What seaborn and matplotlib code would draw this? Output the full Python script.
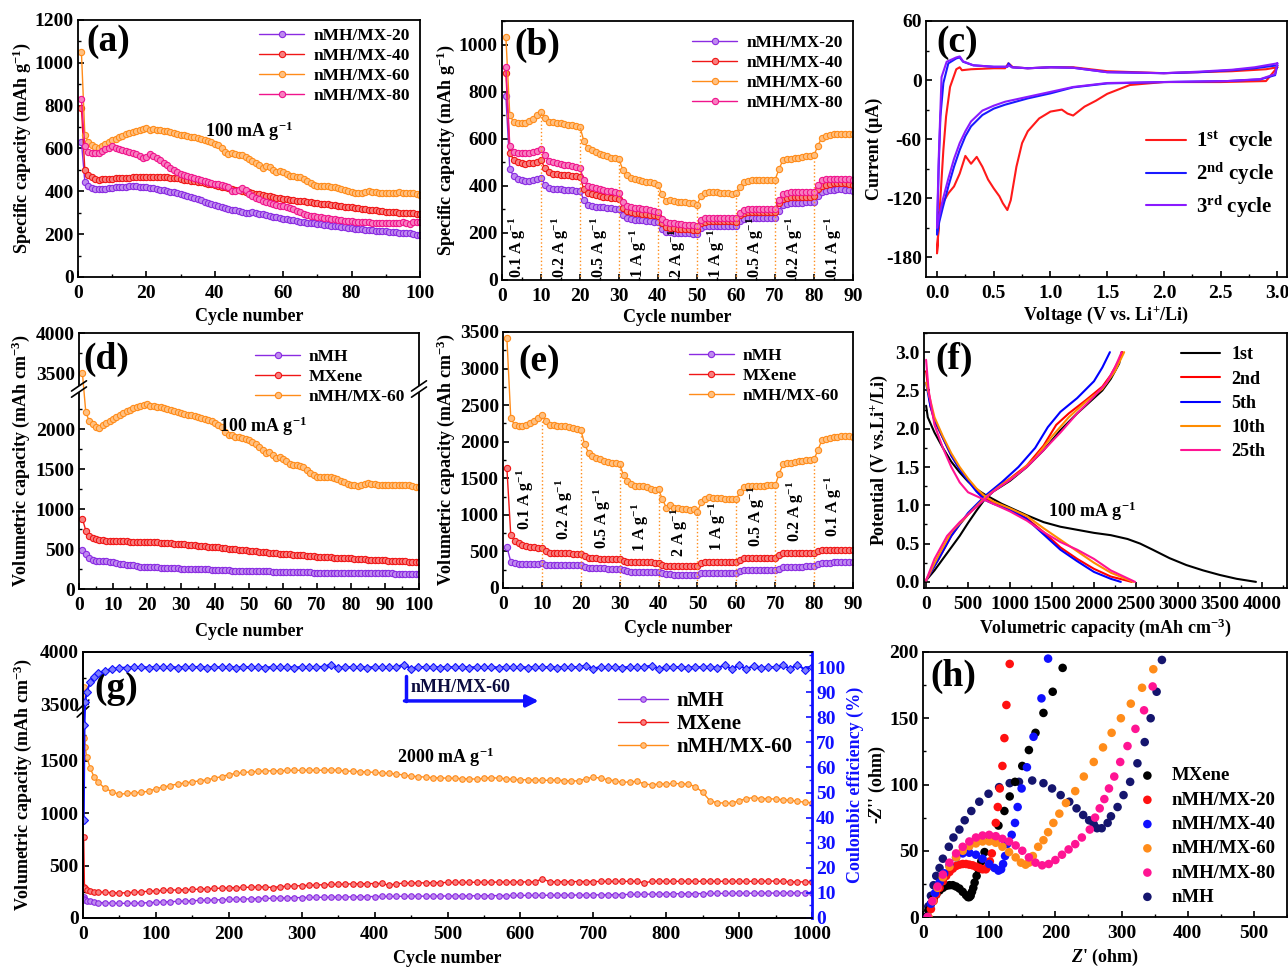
import numpy as np
import matplotlib
matplotlib.use("Agg")
import matplotlib.pyplot as plt
import seaborn as sns
from matplotlib.ticker import MultipleLocator
from matplotlib.colors import to_rgb

# ---------------------------------------------------------------- data
cyc100 = list(range(1, 101))
cyc90 = list(range(1, 91))

# (a) specific capacity, 100 mA g-1
a_mx20 = [632, 445, 425, 415, 410, 410, 411, 413, 415, 417, 419, 420, 421, 422, 423, 423, 423, 422, 421, 419,
          417, 414, 411, 408, 405, 402, 399, 396, 393, 389, 384, 379, 374, 369, 364, 358, 352, 346, 340, 335,
          331, 327, 323, 319, 315, 311, 307, 303, 300, 298, 302, 299, 295, 292, 289, 285, 282, 279, 276, 273,
          270, 267, 264, 261, 258, 256, 254, 252, 250, 248, 246, 244, 242, 240, 238, 236, 234, 232, 230, 228,
          226, 224, 222, 220, 219, 218, 216, 215, 214, 213, 211, 209, 208, 206, 205, 207, 205, 200, 196, 194]
a_mx40 = [790, 500, 475, 465, 457, 455, 456, 457, 458, 459, 460, 461, 462, 463, 464, 465, 466, 467, 468, 469,
          469, 469, 468, 468, 467, 466, 464, 462, 460, 457, 455, 452, 450, 447, 445, 442, 439, 436, 433, 430,
          426, 422, 418, 415, 412, 408, 405, 402, 398, 395, 392, 389, 386, 383, 380, 377, 374, 371, 368, 365,
          363, 361, 359, 357, 355, 353, 351, 349, 347, 345, 343, 341, 339, 337, 335, 333, 331, 329, 327, 325,
          322, 320, 318, 317, 315, 313, 311, 309, 307, 305, 304, 303, 302, 301, 300, 299, 298, 297, 296, 295]
a_mx60 = [1050, 665, 630, 615, 608, 603, 612, 622, 630, 638, 645, 652, 660, 667, 673, 679, 684, 688, 692, 695,
          688, 690, 688, 686, 683, 680, 676, 672, 668, 665, 662, 658, 655, 652, 648, 645, 640, 635, 630, 622,
          615, 600, 585, 575, 578, 572, 570, 568, 562, 552, 542, 532, 522, 510, 518, 512, 500, 492, 496, 488,
          480, 472, 470, 468, 465, 458, 450, 440, 430, 425, 424, 424, 425, 422, 418, 414, 410, 405, 400, 396,
          392, 390, 390, 398, 400, 398, 398, 392, 394, 394, 392, 394, 393, 395, 392, 390, 390, 390, 386, 384]
a_mx80 = [830, 610, 585, 580, 578, 580, 588, 597, 604, 610, 602, 597, 592, 587, 583, 578, 573, 567, 555, 560,
          572, 565, 555, 545, 533, 521, 510, 500, 490, 482, 476, 470, 465, 460, 456, 451, 447, 442, 438, 435,
          432, 428, 424, 418, 402, 403, 408, 415, 405, 388, 378, 368, 362, 356, 350, 345, 340, 336, 332, 330,
          326, 321, 316, 310, 303, 296, 290, 286, 283, 280, 278, 276, 274, 272, 270, 267, 264, 262, 260, 260,
          259, 258, 257, 256, 255, 254, 253, 252, 251, 250, 251, 252, 253, 254, 255, 252, 248, 255, 256, 255]

# (b) rate capability, specific capacity
b_mx20 = [780, 470, 440, 430, 425, 420, 422, 425, 428, 432, 405, 390, 387, 385, 385, 384, 383, 382, 380, 378,
          340, 320, 315, 312, 310, 308, 306, 304, 302, 300, 275, 262, 258, 256, 255, 253, 252, 250, 248, 245,
          215, 205, 202, 200, 200, 199, 198, 198, 197, 197, 220, 228, 230, 230, 230, 230, 229, 229, 228, 228,
          250, 260, 262, 262, 262, 262, 262, 262, 262, 262, 295, 318, 322, 325, 327, 328, 329, 330, 331, 332,
          358, 375, 380, 382, 384, 385, 385, 384, 382, 380]
b_mx40 = [880, 540, 510, 500, 495, 493, 495, 498, 503, 508, 475, 460, 452, 450, 448, 447, 445, 443, 440, 437,
          385, 370, 365, 360, 357, 354, 352, 350, 348, 345, 305, 292, 288, 285, 283, 281, 279, 277, 275, 272,
          240, 225, 222, 220, 218, 217, 216, 215, 214, 213, 240, 248, 250, 250, 250, 250, 250, 249, 249, 248,
          275, 285, 288, 288, 288, 288, 288, 288, 288, 288, 325, 345, 350, 352, 353, 353, 353, 353, 354, 355,
          385, 400, 405, 408, 410, 410, 410, 410, 408, 405]
b_mx60 = [1030, 700, 670, 665, 665, 668, 675, 685, 700, 712, 688, 670, 670, 668, 665, 663, 660, 657, 655, 650,
          590, 560, 550, 543, 537, 530, 525, 520, 518, 512, 468, 445, 435, 428, 423, 420, 418, 415, 410, 405,
          365, 335, 340, 335, 333, 332, 330, 328, 325, 320, 355, 368, 372, 374, 372, 370, 370, 368, 367, 368,
          395, 415, 422, 424, 425, 424, 424, 425, 425, 425, 470, 508, 512, 515, 518, 520, 522, 525, 528, 530,
          570, 605, 612, 615, 618, 620, 622, 622, 620, 618]
b_mx80 = [905, 570, 545, 540, 538, 538, 540, 543, 547, 555, 530, 505, 500, 495, 492, 490, 488, 485, 480, 475,
          425, 400, 393, 390, 386, 383, 380, 377, 373, 368, 330, 315, 310, 307, 305, 303, 300, 298, 295, 290,
          260, 245, 242, 240, 238, 237, 235, 234, 232, 230, 255, 262, 265, 265, 265, 265, 264, 264, 263, 262,
          285, 298, 300, 302, 302, 302, 302, 302, 302, 302, 340, 365, 370, 372, 372, 372, 372, 372, 373, 375,
          405, 425, 428, 430, 430, 430, 430, 430, 428, 425]
rate_labels = ["0.1 A g$^{-1}$", "0.2 A g$^{-1}$", "0.5 A g$^{-1}$", "1 A g$^{-1}$", "2 A g$^{-1}$",
               "1 A g$^{-1}$", "0.5 A g$^{-1}$", "0.2 A g$^{-1}$", "0.1 A g$^{-1}$"]
step_cycles = [10, 20, 30, 40, 50, 60, 70, 80]

# (c) CV curves
cv1_v = [3.0, 2.9, 2.5, 2.0, 1.7, 1.5, 1.4, 1.3, 1.2, 1.15, 1.1, 1.0, 0.9, 0.8, 0.75, 0.7, 0.65, 0.62, 0.58, 0.55,
         0.5, 0.45, 0.4, 0.35, 0.3, 0.25, 0.2, 0.15, 0.1, 0.05, 0.02, 0.0, 0.03, 0.056, 0.08, 0.115, 0.17, 0.2,
         0.22, 0.3, 0.5, 0.6, 0.63, 0.67, 0.8, 1.0, 1.2, 1.5, 2.0, 2.3, 2.6, 2.9, 3.0]
cv1_i = [13, -1, -2, -2, -5, -14, -21, -27, -36, -34, -30, -32, -39, -52, -64, -88, -122, -132, -125, -118,
         -110, -101, -88, -78, -85, -77, -95, -108, -115, -125, -135, -176, -120, -71, -37, -7, 11, 13,
         10, 11, 12, 12, 17, 13, 12, 13, 13, 9, 7, 8, 9, 11, 13]
cv2_v = [3.0, 2.98, 2.85, 2.56, 2.0, 1.5, 1.2, 1.0, 0.8, 0.6, 0.5, 0.4, 0.3, 0.25, 0.2, 0.15, 0.1, 0.05, 0.02, 0.0,
         0.015, 0.03, 0.056, 0.1, 0.17, 0.2, 0.23, 0.32, 0.5, 0.62, 0.63, 0.66, 0.8, 1.0, 1.2, 1.5, 2.0, 2.3,
         2.6, 2.8, 3.0]
cv2_i = [15, 5, 0.7, -1, -2, -3.4, -7.4, -13.5, -18.6, -25, -29, -35.5, -47, -57, -71, -88, -108, -130, -144, -157,
         -88, -37, -3, 17, 22, 23, 18.6, 15, 13.5, 13.5, 17, 13, 12, 13, 12.5, 8, 7, 8, 10, 12, 15]
cv3_v = [3.0, 2.98, 2.85, 2.56, 2.0, 1.5, 1.2, 1.0, 0.8, 0.6, 0.5, 0.4, 0.3, 0.25, 0.2, 0.15, 0.1, 0.05, 0.02, 0.0,
         0.015, 0.04, 0.085, 0.17, 0.2, 0.23, 0.32, 0.5, 0.62, 0.63, 0.66, 0.8, 1.0, 1.2, 1.5, 2.0, 2.3, 2.6,
         2.8, 3.0]
cv3_i = [17, 6, 1, -1, -2, -3, -7, -12, -17, -22, -26, -31, -42, -52, -64, -80, -100, -122, -138, -150,
         -80, 3, 18.6, 23, 24, 19, 15, 13.5, 13.5, 15, 13, 12, 13, 12.5, 8, 7, 8.5, 10.5, 13, 17]

# (d) volumetric capacity, 100 mA g-1
d_nmh = [490, 440, 390, 362, 355, 350, 347, 345, 340, 335, 325, 312, 308, 305, 303, 300, 290, 280, 277, 275,
         273, 271, 269, 267, 265, 263, 261, 259, 257, 255, 253, 251, 250, 249, 248, 247, 246, 244, 242, 240,
         238, 236, 234, 232, 230, 229, 228, 227, 226, 225, 224, 223, 222, 221, 220, 219, 218, 217, 216, 215,
         214, 213, 212, 211, 210, 209, 208, 207, 206, 205, 204, 203, 202, 202, 201, 201, 200, 200, 200, 200,
         199, 199, 198, 198, 197, 197, 196, 196, 195, 195, 194, 194, 193, 193, 192, 192, 191, 191, 190, 190]
d_mx = [880, 730, 660, 635, 620, 612, 607, 603, 600, 598, 597, 596, 595, 594, 593, 592, 591, 590, 589, 588,
        586, 584, 582, 579, 576, 573, 570, 567, 564, 561, 558, 555, 551, 547, 543, 539, 535, 531, 527, 523,
        519, 515, 510, 505, 500, 495, 491, 487, 483, 479, 475, 471, 467, 463, 459, 455, 451, 447, 443, 439,
        435, 432, 429, 426, 423, 420, 416, 412, 408, 404, 400, 398, 396, 394, 392, 390, 388, 386, 384, 382,
        380, 377, 374, 371, 368, 365, 363, 361, 359, 357, 355, 353, 351, 349, 347, 345, 343, 341, 338, 335]
d_mx60 = [3500, 2210, 2100, 2060, 2030, 2010, 2050, 2080, 2100, 2130, 2150, 2170, 2200, 2220, 2240, 2260, 2275,
          2285, 2295, 2310, 2285, 2290, 2280, 2270, 2260, 2250, 2240, 2230, 2215, 2200, 2190, 2180, 2170, 2160,
          2150, 2140, 2125, 2110, 2095, 2075, 2055, 2020, 1960, 1920, 1925, 1900, 1895, 1890, 1880, 1865, 1840,
          1810, 1780, 1740, 1705, 1710, 1680, 1640, 1645, 1630, 1595, 1565, 1555, 1550, 1540, 1520, 1490, 1450,
          1420, 1405, 1400, 1400, 1400, 1395, 1385, 1370, 1355, 1335, 1315, 1305, 1300, 1290, 1295, 1315, 1320,
          1315, 1315, 1300, 1305, 1305, 1295, 1300, 1305, 1305, 1300, 1300, 1295, 1290, 1280, 1275]

# (e) rate capability, volumetric capacity
e_nmh = [560, 360, 340, 333, 330, 330, 331, 332, 334, 335, 320, 312, 311, 310, 310, 310, 309, 309, 308, 308,
         285, 272, 270, 269, 268, 267, 266, 265, 265, 264, 240, 226, 224, 223, 222, 222, 221, 221, 220, 220,
         200, 186, 185, 184, 183, 182, 182, 181, 181, 180, 200, 210, 210, 209, 209, 208, 208, 207, 207, 206,
         230, 240, 241, 241, 241, 242, 242, 242, 243, 243, 265, 285, 288, 290, 291, 292, 293, 294, 295, 296,
         325, 345, 347, 348, 349, 350, 350, 350, 350, 350]
e_mx = [1640, 720, 640, 610, 590, 575, 565, 555, 550, 545, 500, 478, 476, 475, 474, 473, 472, 471, 470, 470,
        440, 408, 405, 404, 403, 402, 401, 400, 400, 400, 370, 352, 351, 350, 350, 350, 349, 349, 348, 348,
        320, 306, 305, 304, 303, 302, 302, 301, 301, 300, 335, 354, 356, 356, 356, 355, 355, 355, 354, 354,
        385, 404, 406, 407, 408, 408, 409, 409, 410, 410, 450, 474, 476, 477, 478, 478, 479, 479, 480, 480,
        500, 518, 520, 521, 522, 523, 524, 524, 525, 525]
e_mx60 = [3420, 2320, 2230, 2210, 2210, 2230, 2250, 2280, 2330, 2370, 2290, 2230, 2225, 2220, 2215, 2210, 2200,
          2185, 2170, 2165, 1965, 1850, 1810, 1780, 1760, 1740, 1725, 1710, 1710, 1690, 1540, 1460, 1420, 1400,
          1400, 1390, 1380, 1360, 1340, 1350, 1210, 1100, 1130, 1100, 1100, 1080, 1075, 1070, 1080, 1045, 1170,
          1220, 1240, 1230, 1235, 1225, 1220, 1220, 1210, 1220, 1310, 1380, 1400, 1400, 1400, 1400, 1400, 1405,
          1410, 1405, 1560, 1690, 1710, 1715, 1720, 1730, 1740, 1745, 1750, 1760, 1890, 2020, 2040, 2050, 2060,
          2070, 2075, 2075, 2075, 2060]

# (f) charge/discharge profiles (capacity, potential)
f1_dq = [0, 20, 100, 200, 300, 400, 500, 600, 700, 800, 900, 1000, 1200, 1400, 1600, 1800, 2000, 2200, 2400,
         2550, 2700, 2900, 3100, 3300, 3500, 3700, 3930]
f1_dv = [2.3, 2.15, 1.95, 1.75, 1.57, 1.43, 1.31, 1.21, 1.14, 1.08, 1.02, 0.97, 0.87, 0.78, 0.72, 0.68, 0.64,
         0.61, 0.56, 0.5, 0.42, 0.31, 0.22, 0.15, 0.09, 0.04, 0.0]
f1_cq = [0, 100, 200, 300, 400, 500, 600, 700, 800, 1000, 1200, 1400, 1600, 1800, 2000, 2100, 2200, 2300, 2330]
f1_cv = [0.02, 0.15, 0.3, 0.45, 0.6, 0.77, 0.93, 1.08, 1.18, 1.32, 1.5, 1.72, 1.98, 2.2, 2.4, 2.5, 2.65, 2.85, 3.0]
f2_dq = [0, 50, 100, 200, 300, 400, 500, 600, 700, 800, 1000, 1200, 1400, 1600, 1800, 2000, 2200, 2450]
f2_dv = [2.75, 2.3, 2.1, 1.88, 1.65, 1.48, 1.33, 1.2, 1.1, 1.03, 0.95, 0.83, 0.65, 0.45, 0.3, 0.17, 0.07, 0.0]
f2_cq = [0, 150, 300, 400, 500, 600, 700, 800, 1000, 1200, 1400, 1550, 1700, 1900, 2100, 2200, 2300, 2340]
f2_cv = [0.02, 0.3, 0.6, 0.75, 0.88, 1.0, 1.1, 1.2, 1.35, 1.52, 1.78, 2.05, 2.2, 2.37, 2.55, 2.7, 2.9, 3.0]
f5_dq = [0, 50, 100, 200, 300, 400, 500, 600, 700, 800, 1000, 1200, 1400, 1600, 1800, 2000, 2200, 2320]
f5_dv = [2.6, 2.3, 2.12, 1.88, 1.65, 1.47, 1.32, 1.18, 1.07, 1.02, 0.94, 0.82, 0.62, 0.42, 0.27, 0.13, 0.04, 0.0]
f5_cq = [0, 150, 300, 500, 700, 900, 1100, 1300, 1450, 1600, 1800, 2000, 2100, 2190]
f5_cv = [0.02, 0.3, 0.6, 0.9, 1.12, 1.3, 1.5, 1.75, 2.02, 2.22, 2.4, 2.62, 2.8, 3.0]
f10_dq = [0, 100, 200, 300, 400, 500, 600, 700, 800, 1000, 1200, 1400, 1600, 1800, 2000, 2200, 2470]
f10_dv = [2.6, 2.15, 1.9, 1.68, 1.5, 1.35, 1.22, 1.12, 1.05, 0.96, 0.86, 0.7, 0.55, 0.4, 0.25, 0.12, 0.0]
f10_cq = [0, 150, 300, 500, 700, 900, 1100, 1300, 1500, 1700, 1900, 2100, 2250, 2360]
f10_cv = [0.02, 0.35, 0.65, 0.88, 1.1, 1.27, 1.42, 1.62, 1.9, 2.15, 2.35, 2.52, 2.75, 3.0]
f25_dq = [0, 30, 100, 200, 300, 400, 500, 600, 700, 800, 1000, 1200, 1400, 1600, 1800, 2000, 2200, 2490]
f25_dv = [2.9, 2.5, 2.05, 1.75, 1.5, 1.3, 1.17, 1.12, 1.07, 1.02, 0.92, 0.8, 0.65, 0.52, 0.42, 0.3, 0.15, 0.0]
f25_cq = [0, 100, 250, 400, 600, 800, 1000, 1200, 1400, 1600, 1800, 2000, 2150, 2250, 2330]
f25_cv = [0.02, 0.3, 0.6, 0.78, 0.98, 1.18, 1.33, 1.5, 1.72, 1.95, 2.2, 2.42, 2.6, 2.8, 3.0]

# (g) long cycling at 2000 mA g-1
g_cyc = [1, 2, 3, 5, 10, 15, 20] + list(range(30, 1001, 10))
g_mx60 = [3670, 1720, 1635, 1540, 1430, 1350, 1300,
          1240, 1205, 1180, 1190, 1195, 1200, 1210, 1235, 1250, 1265,
          1280, 1290, 1300, 1310, 1320, 1335, 1350, 1370, 1380, 1390,
          1395, 1400, 1405, 1405, 1405, 1410, 1410, 1410, 1412, 1410,
          1412, 1415, 1410, 1405, 1400, 1398, 1395, 1390, 1385, 1380,
          1375, 1365, 1355, 1350, 1345, 1340, 1338, 1335, 1335, 1330,
          1330, 1325, 1335, 1340, 1335, 1330, 1325, 1320, 1320, 1318,
          1315, 1315, 1318, 1312, 1308, 1310, 1330, 1345, 1335, 1320,
          1310, 1295, 1300, 1305, 1280, 1272, 1280, 1280, 1285, 1282,
          1278, 1255, 1200, 1120, 1100, 1098, 1095, 1120, 1140, 1150,
          1140, 1140, 1135, 1130, 1125, 1115, 1105, 1100]
g_mx = [770, 300, 285, 270, 258, 252, 250,
        245, 242, 238, 242, 245, 250, 255, 260, 263, 266,
        268, 270, 273, 276, 279, 282, 285, 288, 290, 292,
        294, 296, 298, 290, 300, 303, 306, 309, 312, 315,
        318, 320, 322, 324, 326, 327, 328, 329, 330, 312,
        328, 332, 334, 335, 336, 337, 338, 339, 340, 340,
        341, 341, 342, 342, 343, 343, 344, 344, 345, 345,
        375, 346, 346, 347, 347, 348, 348, 348, 349, 349,
        349, 350, 350, 350, 335, 350, 350, 350, 350, 350,
        350, 350, 350, 350, 350, 350, 349, 349, 349, 350,
        350, 352, 352, 350, 345, 345, 345, 345]
g_nmh = [200, 180, 172, 165, 158, 152, 148,
         145, 142, 140, 140, 141, 143, 146, 150, 153, 156,
         159, 162, 165, 168, 170, 172, 175, 177, 179, 181,
         183, 185, 187, 188, 190, 192, 194, 195, 196, 197,
         198, 199, 200, 201, 202, 203, 204, 205, 206, 206,
         207, 207, 208, 208, 209, 209, 210, 210, 211, 211,
         212, 212, 213, 213, 214, 214, 215, 215, 216, 216,
         217, 217, 218, 218, 219, 219, 220, 220, 221, 222,
         223, 224, 225, 226, 227, 228, 229, 230, 231, 232,
         232, 233, 233, 234, 234, 235, 235, 236, 236, 237,
         237, 238, 238, 239, 239, 240, 240, 240]
g_ce = [39, 77, 86, 90, 94, 96, 97.5,
        98.5, 99.2, 99.6, 99.8, 99.9, 100, 99.8, 100, 99.9, 100,
        99.8, 100, 99.9, 100.1, 99.8, 100, 99.9, 100, 99.8, 100,
        99.9, 100, 99.8, 100, 99.9, 100, 99.8, 100, 99.9, 100,
        100.1, 101, 99.6, 100, 99.9, 100, 99.8, 100, 99.9, 100,
        100, 101, 99.4, 100, 99.9, 100, 99.8, 100, 99.9, 100,
        99.8, 100, 99.9, 100, 99.8, 100, 99.9, 100, 99.8, 100,
        99.9, 100, 99.8, 100, 99.9, 100, 100.5, 99.4, 100, 99.9,
        100, 99.8, 100, 99.9, 100, 100.6, 99.3, 100, 99.9, 100,
        99.8, 100, 99.9, 100.2, 99.6, 100.7, 99.2, 100.8, 99.1, 100.6,
        99.5, 100, 99.9, 100.8, 99.3, 101, 99, 100]

# (h) Nyquist plots
h_mx_x = [5, 8, 12, 16, 20, 25, 30, 35, 40, 45, 50, 55, 60, 65, 68, 70, 72, 74, 76, 78, 81, 84, 88, 93, 101,
          114, 123, 131, 139, 150, 160, 170, 182, 196, 211]
h_mx_y = [0, 5, 10, 14, 17, 20, 22, 23.5, 24, 24, 23, 21.5, 19, 16.5, 15, 15, 16, 19, 22, 26, 31, 36, 42, 49, 58,
          69, 80, 91, 102, 114, 126, 139, 154, 170, 188]
h_20_x = [8, 12, 16, 20, 25, 30, 35, 40, 45, 50, 55, 60, 65, 70, 75, 80, 85, 90, 95, 98, 101, 104, 107, 110, 113,
          116, 120, 123, 126, 131]
h_20_y = [0, 6, 12, 17, 22, 27, 31, 34, 36.5, 38.5, 39.5, 40, 40, 39.5, 39, 38, 37, 36, 36, 38, 42, 48, 58, 71, 83,
          97, 114, 135, 160, 191]
h_40_x = [7, 12, 18, 25, 32, 40, 50, 60, 70, 80, 90, 100, 108, 114, 118, 121, 124, 127, 134, 139, 143, 149, 157,
          167, 179, 189]
h_40_y = [0, 10, 18, 26, 33, 39, 45, 48, 48.5, 47, 44, 40, 37, 35, 36, 40, 46, 55, 62, 71, 83, 97, 113, 136, 165, 195]
h_60_x = [8, 15, 22, 30, 40, 50, 60, 70, 80, 90, 100, 110, 120, 130, 140, 148, 155, 160, 166, 174, 182, 189, 197,
          206, 216, 230, 243, 258, 272, 285, 299, 314, 331, 348]
h_60_y = [0, 12, 22, 30, 38, 45, 50, 53.5, 55.5, 57, 57, 56, 53, 49, 45, 41, 39.5, 41, 46, 53, 58, 64, 71, 78, 86,
          95, 106, 117, 128, 139, 150, 161, 173, 187]
h_80_x = [7, 14, 22, 30, 40, 50, 60, 70, 80, 90, 100, 110, 120, 130, 140, 150, 160, 170, 180, 190, 200, 210, 220,
          230, 240, 252, 260, 267, 274, 281, 289, 298, 309, 321, 334, 347]
h_80_y = [0, 12, 23, 32, 41, 48, 53, 57, 60, 61.5, 62, 61, 59, 57, 54, 50, 45, 41, 39, 40, 43, 47, 51, 55, 60, 66,
          75, 82, 89, 97, 106, 117, 129, 142, 156, 174]
h_nmh_x = [5, 8, 12, 16, 20, 25, 30, 39, 46, 55, 63, 73, 85, 99, 115, 131, 145, 165, 182, 195, 208, 221, 232,
           242, 251, 258, 263, 270, 279, 284, 294, 303, 313, 324, 335, 344, 353, 361]
h_nmh_y = [0, 8, 16, 24, 31, 37, 44, 53, 60, 66, 73, 80, 87, 93, 98, 101, 102, 103, 101, 97, 92, 87, 82, 77, 73,
           70, 67, 67, 71, 76, 83, 92, 102, 116, 132, 150, 170, 194]

# ---------------------------------------------------------------- style
sns.set_theme(style="ticks")
plt.rcParams.update({
    "font.family": ["Liberation Serif", "DejaVu Serif"],
    "font.weight": "bold",
    "axes.labelweight": "bold",
    "mathtext.fontset": "custom",
    "mathtext.rm": "Liberation Serif:bold",
    "mathtext.bf": "Liberation Serif:bold",
    "mathtext.it": "Liberation Serif:italic:bold",
    "mathtext.default": "bf",
    "axes.unicode_minus": False,
    "axes.linewidth": 1.3,
    "axes.edgecolor": "black",
    "axes.labelcolor": "black",
    "text.color": "black",
    "xtick.color": "black", "ytick.color": "black",
    "xtick.direction": "in", "ytick.direction": "in",
    "xtick.major.size": 4, "ytick.major.size": 4,
    "xtick.minor.size": 2.5, "ytick.minor.size": 2.5,
    "xtick.major.width": 1.2, "ytick.major.width": 1.2,
    "xtick.minor.width": 1.0, "ytick.minor.width": 1.0,
    "xtick.major.pad": 6, "ytick.major.pad": 3,
    "xtick.labelsize": 14, "ytick.labelsize": 14,
    "axes.labelsize": 13,
    "legend.frameon": False,
})

PURPLE = "#8a2be2"
RED = "#f01616"
ORANGE = "#ff8c1a"
PINK = "#f0148c"
BLUE = "#1010ff"
NAVY = "#15156e"


def tint(c, f=0.45):
    r, g, b = to_rgb(c)
    return (r + (1 - r) * f, g + (1 - g) * f, b + (1 - b) * f)


def lp(ax, x, y, color, label=None, marker="o", ms=4.5, lw=1.0, **kw):
    extra = {}
    if marker is not None:
        extra = dict(marker=marker, markersize=ms, markerfacecolor=tint(color),
                     markeredgecolor=color, markeredgewidth=0.8)
    sns.lineplot(x=np.asarray(x, float), y=np.asarray(y, float), ax=ax, color=color,
                 linewidth=lw, sort=False, estimator=None, legend=False, label=label,
                 **extra, **kw)


def locs(ax, xmaj, xmin, ymaj=None, ymin=None):
    ax.xaxis.set_major_locator(MultipleLocator(xmaj))
    ax.xaxis.set_minor_locator(MultipleLocator(xmin))
    if ymaj is not None:
        ax.yaxis.set_major_locator(MultipleLocator(ymaj))
        ax.yaxis.set_minor_locator(MultipleLocator(ymin))


def panel(ax, s, x, y):
    ax.text(x, y, s, transform=ax.transAxes, fontsize=27, fontweight="bold", va="top", ha="left")


def break_scale(lo, hi):
    gap = hi - lo

    def fwd(y):
        y = np.asarray(y, float)
        return np.where(y <= lo, y, np.where(y >= hi, y - gap, lo))

    def inv(z):
        z = np.asarray(z, float)
        return np.where(z <= lo, z, z + gap)
    return fwd, inv


def break_mark(ax, yb, xs=(0, 1), dx=0.022, dy=0.018, s=0.011):
    for x0 in xs:
        ax.plot([x0, x0], [yb - s, yb + s], transform=ax.transAxes, color="white", lw=3,
                clip_on=False, zorder=10, solid_capstyle="butt")
        for o in (-s, s):
            ax.plot([x0 - dx, x0 + dx], [yb + o - dy, yb + o + dy], transform=ax.transAxes,
                    color="black", lw=1.2, clip_on=False, zorder=11)


W, H = 1288, 967


def box(l, t, r, b):
    return [l / W, 1 - b / H, (r - l) / W, (b - t) / H]


fig = plt.figure(figsize=(W / 100, H / 100), dpi=100)

# ---------------------------------------------------------------- (a)
ax = fig.add_axes(box(78, 20, 420, 277))
for vals, c, lab in [(a_mx20, PURPLE, "nMH/MX-20"), (a_mx40, RED, "nMH/MX-40"),
                     (a_mx60, ORANGE, "nMH/MX-60"), (a_mx80, PINK, "nMH/MX-80")]:
    lp(ax, cyc100, vals, c, lab)
ax.set_xlim(0, 100)
ax.set_ylim(0, 1200)
locs(ax, 20, 10, 200, 100)
ax.set_xlabel("Cycle number", labelpad=4)
ax.set_ylabel("Specific capacity (mAh g$^{-1}$)", labelpad=1)
ax.text(50, 680, "100 mA g$^{-1}$", ha="center", va="center", fontsize=13)
ax.legend(loc="upper right", bbox_to_anchor=(1.0, 1.01), fontsize=12.5, handlelength=2.6,
          labelspacing=0.22, handletextpad=0.5, borderaxespad=0.2)
panel(ax, "(a)", 0.025, 0.985)

# ---------------------------------------------------------------- (b)
ax = fig.add_axes(box(502, 21, 853, 280))
for vals, c, lab in [(b_mx20, PURPLE, "nMH/MX-20"), (b_mx40, RED, "nMH/MX-40"),
                     (b_mx60, ORANGE, "nMH/MX-60"), (b_mx80, PINK, "nMH/MX-80")]:
    lp(ax, cyc90, vals, c, lab)
ax.vlines(step_cycles, 0, [b_mx60[c - 1] for c in step_cycles], colors=ORANGE, linestyles=":", lw=1)
b_lab_x = [4, 15, 25, 35, 45, 55, 65, 75, 85]
for x, t in zip(b_lab_x, rate_labels):
    ax.text(x, 8, t, rotation=90, ha="center", va="bottom", fontsize=11.5)
ax.set_xlim(0, 90)
ax.set_ylim(0, 1100)
locs(ax, 10, 5, 200, 100)
ax.set_xlabel("Cycle number", labelpad=3)
ax.set_ylabel("Specific capacity (mAh g$^{-1}$)", labelpad=1)
ax.legend(loc="upper right", bbox_to_anchor=(1.0, 0.985), fontsize=12.5, handlelength=2.6,
          labelspacing=0.22, handletextpad=0.5, borderaxespad=0.2)
panel(ax, "(b)", 0.035, 0.975)

# ---------------------------------------------------------------- (c)
ax = fig.add_axes(box(926, 21, 1287, 277))
lp(ax, cv1_v, cv1_i, "#ff1a1a", "1$^{st}$  cycle", marker=None, lw=1.5)
lp(ax, cv2_v, cv2_i, "#1a1aff", "2$^{nd}$ cycle", marker=None, lw=1.5)
lp(ax, cv3_v, cv3_i, "#8a1aff", "3$^{rd}$ cycle", marker=None, lw=1.5)
ax.set_xlim(-0.097, 3.085)
ax.set_ylim(-200, 60)
locs(ax, 0.5, 0.25, 60, 30)
ax.set_xlabel("Voltage (V vs. Li$^{+}$/Li)", labelpad=2)
ax.set_ylabel("Current (μA)", labelpad=2)
ax.legend(loc="center right", bbox_to_anchor=(1.0, 0.40), fontsize=15, handlelength=1.9,
          labelspacing=0.3, handletextpad=0.5, borderaxespad=0.2)
panel(ax, "(c)", 0.03, 0.985)

# ---------------------------------------------------------------- (d)
ax = fig.add_axes(box(79, 333, 419, 589))
fwd, inv = break_scale(2500, 3300)
ax.set_yscale("function", functions=(fwd, inv))
for vals, c, lab in [(d_nmh, PURPLE, "nMH"), (d_mx, RED, "MXene"), (d_mx60, ORANGE, "nMH/MX-60")]:
    lp(ax, cyc100, vals, c, lab)
ax.set_xlim(0, 100)
ax.set_ylim(0, 4000)
ax.set_yticks([0, 500, 1000, 1500, 2000, 3500, 4000])
ax.set_yticks([250, 750, 1250, 1750, 2250, 3750], minor=True)
ax.xaxis.set_major_locator(MultipleLocator(10))
ax.xaxis.set_minor_locator(MultipleLocator(5))
ax.set_xlabel("Cycle number", labelpad=6)
ax.set_ylabel("Volumetric capacity (mAh cm$^{-3}$)", labelpad=3)
ax.text(54, 2040, "100 mA g$^{-1}$", ha="center", va="center", fontsize=13)
ax.legend(loc="upper right", bbox_to_anchor=(0.99, 0.98), fontsize=12.5, handlelength=2.6,
          labelspacing=0.22, handletextpad=0.5, borderaxespad=0.2)
break_mark(ax, 2500 / 3200, dx=0.022, dy=0.02, s=0.012)
panel(ax, "(d)", 0.012, 0.965)

# ---------------------------------------------------------------- (e)
ax = fig.add_axes(box(503, 332, 853, 588))
for vals, c, lab in [(e_nmh, PURPLE, "nMH"), (e_mx, RED, "MXene"), (e_mx60, ORANGE, "nMH/MX-60")]:
    lp(ax, cyc90, vals, c, lab)
ax.vlines(step_cycles, 0, [e_mx60[c - 1] for c in step_cycles], colors=ORANGE, linestyles=":", lw=1)
e_lab_x = [5.8, 15.7, 25.6, 35.4, 45.3, 55.2, 65.2, 75.1, 85]
e_lab_y = [790, 650, 540, 495, 430, 505, 560, 635, 695]
for x, y, t in zip(e_lab_x, e_lab_y, rate_labels):
    ax.text(x, y, t, rotation=90, ha="center", va="bottom", fontsize=11.5)
ax.set_xlim(0, 90)
ax.set_ylim(0, 3500)
locs(ax, 10, 5, 500, 250)
ax.set_xlabel("Cycle number", labelpad=5)
ax.set_ylabel("Volumetric capacity (mAh cm$^{-3}$)", labelpad=2)
ax.legend(loc="upper right", bbox_to_anchor=(0.99, 0.98), fontsize=12.5, handlelength=2.6,
          labelspacing=0.22, handletextpad=0.5, borderaxespad=0.2)
panel(ax, "(e)", 0.045, 0.955)

# ---------------------------------------------------------------- (f)
ax = fig.add_axes(box(924, 333, 1287, 588))
for (dq, dv, cq, cv), c, lab in [((f1_dq, f1_dv, f1_cq, f1_cv), "black", "1st"),
                                 ((f2_dq, f2_dv, f2_cq, f2_cv), "#ff0000", "2nd"),
                                 ((f5_dq, f5_dv, f5_cq, f5_cv), "#0000ff", "5th"),
                                 ((f10_dq, f10_dv, f10_cq, f10_cv), "#ff8c00", "10th"),
                                 ((f25_dq, f25_dv, f25_cq, f25_cv), "#ff1493", "25th")]:
    lp(ax, dq, dv, c, lab, marker=None, lw=1.5)
    lp(ax, cq, cv, c, None, marker=None, lw=1.5)
ax.set_xlim(-25, 4300)
ax.set_ylim(-0.08, 3.25)
locs(ax, 500, 250, 0.5, 0.25)
ax.set_xlabel("Volumetric capacity (mAh cm$^{-3}$)", labelpad=2)
ax.set_ylabel("Potential (V vs.Li$^{+}$/Li)", labelpad=4)
ax.text(1980, 0.92, "100 mA g$^{-1}$", ha="center", va="center", fontsize=13)
ax.legend(loc="upper right", bbox_to_anchor=(0.97, 0.99), fontsize=13, handlelength=2.2,
          labelspacing=0.4, handletextpad=0.6, borderaxespad=0.2)
panel(ax, "(f)", 0.03, 0.965)

# ---------------------------------------------------------------- (g)
ax = fig.add_axes(box(83, 652, 812, 918))
fwd, inv = break_scale(2000, 3460)
ax.set_yscale("function", functions=(fwd, inv))
lp(ax, g_cyc, g_nmh, PURPLE, "nMH", ms=4)
lp(ax, g_cyc, g_mx, RED, "MXene", ms=4)
lp(ax, g_cyc, g_mx60, ORANGE, "nMH/MX-60", ms=4)
ax.set_xlim(0, 1000)
ax.set_ylim(0, 4000)
ax.set_yticks([0, 500, 1000, 1500, 3500, 4000])
ax.set_yticks([250, 750, 1250, 1750, 3750], minor=True)
ax.xaxis.set_major_locator(MultipleLocator(100))
ax.xaxis.set_minor_locator(MultipleLocator(50))
ax.set_xlabel("Cycle number", labelpad=5)
ax.set_ylabel("Volumetric capacity (mAh cm$^{-3}$)", labelpad=4)
ax.spines["right"].set_visible(False)
ax.text(497, 1530, "2000 mA g$^{-1}$", ha="center", va="center", fontsize=13)
ax.legend(loc="upper right", bbox_to_anchor=(0.99, 0.90), fontsize=15, handlelength=2.4,
          labelspacing=0.15, handletextpad=0.4, borderaxespad=0.2)
break_mark(ax, 2000 / 2540, xs=(0,), dx=0.008, dy=0.02, s=0.012)
panel(ax, "(g)", 0.015, 0.93)

ax2 = ax.twinx()
ax2.set_position(box(83, 652, 812, 918))
lp(ax2, g_cyc, g_ce, BLUE, None, marker="D", ms=4.5, lw=1.5)
ax2.set_ylim(0, 106)
ax2.yaxis.set_major_locator(MultipleLocator(10))
ax2.yaxis.set_minor_locator(MultipleLocator(5))
ax2.tick_params(axis="y", which="both", colors=BLUE, pad=3)
for lbl in ax2.get_yticklabels():
    lbl.set_color(BLUE)
ax2.spines["right"].set_color(BLUE)
ax2.spines["right"].set_linewidth(2.0)
ax2.set_ylabel("Coulombic efficiency (%)", color=BLUE, labelpad=1)
ax2.plot([443, 443], [96.5, 86.5], color=BLUE, lw=2.5)
ax2.annotate("", xy=(625, 86.5), xytext=(441, 86.5),
             arrowprops=dict(arrowstyle="-|>", color=BLUE, lw=2.5, mutation_scale=18,
                             shrinkA=0, shrinkB=0))
ax2.text(449, 92, "nMH/MX-60", ha="left", va="center", fontsize=13, color="#0c0c40")

# ---------------------------------------------------------------- (h)
ax = fig.add_axes(box(923, 652, 1287, 917))
for xs, ys, c, lab, z in [(h_mx_x, h_mx_y, "black", "MXene", 3),
                          (h_20_x, h_20_y, "#ff1010", "nMH/MX-20", 3),
                          (h_40_x, h_40_y, "#1010ff", "nMH/MX-40", 3),
                          (h_60_x, h_60_y, "#ff8c1a", "nMH/MX-60", 3),
                          (h_80_x, h_80_y, "#ff1493", "nMH/MX-80", 3),
                          (h_nmh_x, h_nmh_y, NAVY, "nMH", 2)]:
    sns.scatterplot(x=np.asarray(xs, float), y=np.asarray(ys, float), ax=ax, color=c, s=38,
                    edgecolor="none", label=lab, legend=False, zorder=z)
ax.set_xlim(0, 550)
ax.set_ylim(0, 200)
locs(ax, 100, 50, 50, 25)
ax.set_xlabel("$\\mathit{Z}$' (ohm)", labelpad=3)
ax.set_ylabel("-$\\mathit{Z}$'' (ohm)", labelpad=1)
ax.legend(loc="lower right", bbox_to_anchor=(1.0, 0.0), fontsize=13.5, handletextpad=0.3,
          labelspacing=0.38, borderaxespad=0.2, markerscale=1.0)
panel(ax, "(h)", 0.02, 0.975)

fig.savefig("out.png", dpi=100)
